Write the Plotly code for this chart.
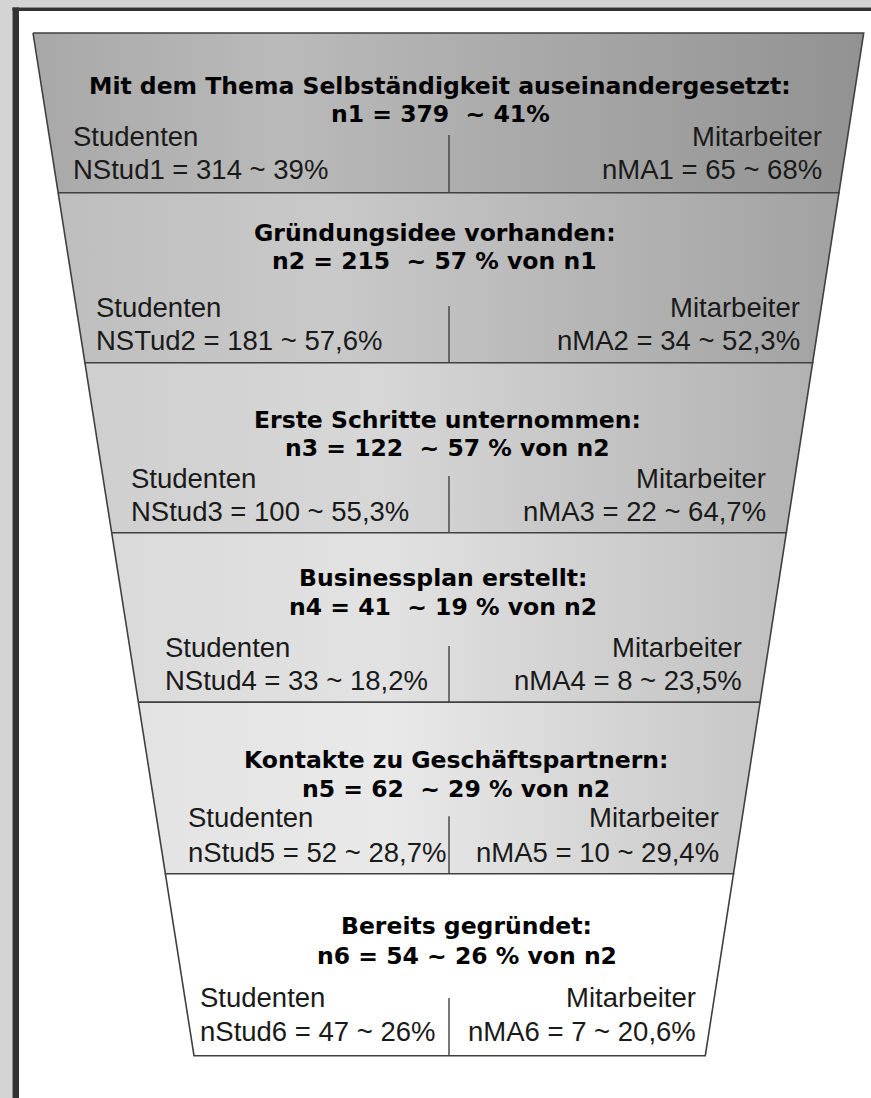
import plotly.graph_objects as go

# ---------------- data ----------------
stage_titles = [
    "Mit dem Thema Selbständigkeit auseinandergesetzt:",
    "Gründungsidee vorhanden:",
    "Erste Schritte unternommen:",
    "Businessplan erstellt:",
    "Kontakte zu Geschäftspartnern:",
    "Bereits gegründet:",
]
n_labels = ["n1", "n2", "n3", "n4", "n5", "n6"]
n_values = [379, 215, 122, 41, 62, 54]
n_pct = [41, 57, 57, 19, 29, 26]
n_pct_ref = [None, "n1", "n2", "n2", "n2", "n2"]

stud_head = "Studenten"
stud_labels = ["NStud1", "NSTud2", "NStud3", "NStud4", "nStud5", "nStud6"]
stud_values = [314, 181, 100, 33, 52, 47]
stud_pct = [39, 57.6, 55.3, 18.2, 28.7, 26]

ma_head = "Mitarbeiter"
ma_labels = ["nMA1", "nMA2", "nMA3", "nMA4", "nMA5", "nMA6"]
ma_values = [65, 34, 22, 8, 10, 7]
ma_pct = [68, 52.3, 64.7, 23.5, 29.4, 20.6]

# ---------------- layout geometry (pixels) ----------------
W, H = 871, 1098
band_y = [33, 192.7, 362.7, 532.7, 702.3, 873.7, 1055.7]
top_x = (33, 863.7)
bot_x = (194, 705.3)
div_x = 449
div_top = [135, 306, 476, 646, 816.3, 998]
title_cx = [440, 434.5, 447.7, 443, 456, 466.8]
title_base1 = [94.3, 241, 428.3, 586, 768, 934.7]
title_base2 = [122.3, 269, 456.7, 615, 797.3, 964]
lab_left_x = [72, 95, 130, 164, 187, 199]
lab_right_x = [823, 801, 767, 743, 720, 697]
lab_base1 = [146.5, 316.7, 487.7, 656.7, 827.3, 1007.3]
lab_base2 = [179.3, 350, 520.7, 690, 862, 1040.7]
n_gap = [2, 2, 2, 2, 2, 1]

band_colors = [
    [[0, "#a8a8a8"], [0.3, "#bababa"], [1, "#929292"]],
    [[0, "#bebebe"], [0.35, "#c9c9c9"], [1, "#a2a2a2"]],
    [[0, "#cfcfcf"], [0.4, "#d7d7d7"], [1, "#b2b2b2"]],
    [[0, "#dadada"], [0.4, "#e2e2e2"], [1, "#c0c0c0"]],
    [[0, "#e3e3e3"], [0.4, "#e9e9e9"], [1, "#c7c7c7"]],
    [[0, "#ffffff"], [1, "#ffffff"]],
]

TITLE_FONT = dict(family="DejaVu Sans, Verdana, sans-serif", size=23.5, color="#000000")
LAB_FONT = dict(family="Liberation Sans, Arial, sans-serif", size=27.5, color="#1a1a1a")
EDGE = "#404040"


def edge_x(y):
    t = (y - band_y[0]) / (band_y[-1] - band_y[0])
    return top_x[0] + t * (bot_x[0] - top_x[0]), top_x[1] + t * (bot_x[1] - top_x[1])


def de_pct(v):
    return f"{v:g}".replace(".", ",") + "%"


fig = go.Figure()

# funnel bands
for i in range(len(stage_titles)):
    y0, y1 = band_y[i], band_y[i + 1]
    l0, r0 = edge_x(y0)
    l1, r1 = edge_x(y1)
    fig.add_trace(go.Scatter(
        x=[l0, r0, r1, l1, l0], y=[y0, y0, y1, y1, y0],
        mode="lines", fill="toself",
        fillgradient=dict(type="horizontal", colorscale=band_colors[i]),
        line=dict(color=EDGE, width=1.6),
        hoverinfo="skip", showlegend=False,
    ))
    # divider between Studenten and Mitarbeiter
    fig.add_trace(go.Scatter(
        x=[div_x, div_x], y=[div_top[i], y1], mode="lines",
        line=dict(color=EDGE, width=1.4), hoverinfo="skip", showlegend=False,
    ))

annotations = []


def add_text(x, baseline, text, font, anchor):
    annotations.append(dict(
        x=x, y=baseline - 0.35 * font["size"], xref="x", yref="y",
        text=text, showarrow=False, font=font, xanchor=anchor, yanchor="middle",
        borderpad=0,
    ))


for i in range(len(stage_titles)):
    add_text(title_cx[i], title_base1[i], f"<b>{stage_titles[i]}</b>", TITLE_FONT, "center")
    pct = f"{n_pct[i]}%" if n_pct_ref[i] is None else f"{n_pct[i]} % von {n_pct_ref[i]}"
    gap = "\u00a0" * n_gap[i]
    line2 = f"{n_labels[i]} = {n_values[i]}{gap}~ {pct}"
    add_text(title_cx[i], title_base2[i], f"<b>{line2}</b>", TITLE_FONT, "center")
    add_text(lab_left_x[i], lab_base1[i], stud_head, LAB_FONT, "left")
    add_text(lab_left_x[i], lab_base2[i],
             f"{stud_labels[i]} = {stud_values[i]} ~ {de_pct(stud_pct[i])}", LAB_FONT, "left")
    add_text(lab_right_x[i], lab_base1[i], ma_head, LAB_FONT, "right")
    add_text(lab_right_x[i], lab_base2[i],
             f"{ma_labels[i]} = {ma_values[i]} ~ {de_pct(ma_pct[i])}", LAB_FONT, "right")

# background frame (textured gray margin + dark border), in paper coordinates
shapes = [
    dict(type="rect", xref="paper", yref="paper", x0=0, x1=1, y0=1 - 7.5 / H, y1=1,
         fillcolor="#d4d4d4", line_width=0, layer="below"),
    dict(type="rect", xref="paper", yref="paper", x0=0, x1=12.5 / W, y0=0, y1=1,
         fillcolor="#d4d4d4", line_width=0, layer="below"),
    dict(type="rect", xref="paper", yref="paper", x0=12.5 / W, x1=1, y0=1 - 11 / H, y1=1 - 7.5 / H,
         fillcolor="#333333", line_width=0, layer="below"),
    dict(type="rect", xref="paper", yref="paper", x0=12.5 / W, x1=19 / W, y0=0, y1=1 - 7.5 / H,
         fillcolor="#333333", line_width=0, layer="below"),
]

fig.update_layout(
    width=W, height=H, margin=dict(l=0, r=0, t=0, b=0, pad=0), autosize=False,
    paper_bgcolor="#ffffff", plot_bgcolor="#ffffff",
    xaxis=dict(range=[0, W], visible=False, fixedrange=True, showgrid=False, zeroline=False),
    yaxis=dict(range=[H, 0], visible=False, fixedrange=True, showgrid=False, zeroline=False),
    annotations=annotations, shapes=shapes, showlegend=False,
)

fig.write_html(
    "out.html", config={"displayModeBar": False},
    post_script=("document.documentElement.style.margin='0';document.documentElement.style.overflow='hidden';"
                 "document.body.style.margin='0';document.body.style.padding='0';"
                 "document.body.style.overflow='hidden';document.body.style.background='#ffffff';"),
)
